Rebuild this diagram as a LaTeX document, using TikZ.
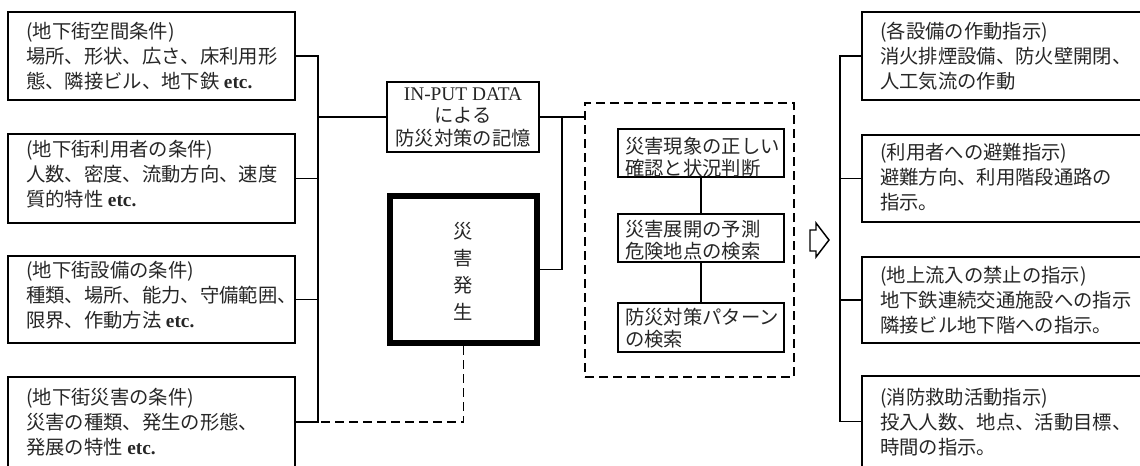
\documentclass[tikz,border=0pt]{standalone}
\usepackage{fontspec}
\setmainfont{Liberation Serif}
\newfontfamily\jp{Noto Sans CJK JP}
\usetikzlibrary{fit}
\newcommand\etcx{{\rmfamily\bfseries etc.}}
\definecolor{ink}{gray}{0.15}
\begin{document}
\begin{tikzpicture}[x=0.75pt,y=-0.75pt,
  box/.style={draw, line width=1.2pt, inner sep=0pt},
  inbox/.style={draw, line width=1.1pt, inner sep=0pt},
  thickbox/.style={draw, line width=4.5pt, inner sep=0pt},
  dbox/.style={draw, line width=1.3pt, dash pattern=on 6.5pt off 4pt, inner sep=0pt},
  conn/.style={draw, line width=0.8pt},
  dconn/.style={draw, line width=1.3pt, dash pattern=on 6.5pt off 4pt},
  txt/.style={inner sep=0pt, align=left, text=ink, font={\jp\fontsize{14.5pt}{18.75pt}\selectfont}},
  itxt/.style={inner sep=0pt, align=left, text=ink, font={\jp\fontsize{14.5pt}{16.5pt}\selectfont}},
  ctxt/.style={inner sep=0pt, align=center, text=ink, font={\jp\fontsize{14.5pt}{16.9pt}\selectfont}},
  vtxt/.style={inner sep=0pt, align=center, text=ink, font={\jp\fontsize{14.5pt}{20.25pt}\selectfont}}]
\useasboundingbox (0,0) rectangle (1140,465);

% left boxes
\node[box, fit={(8,12)(295,100)}] (L1) {};
\node[txt, anchor=west] (L1t) at (26,56) {(地下街空間条件)\\場所、形状、広さ、床利用形\\態、隣接ビル、地下鉄 \etcx};
\node[box, fit={(8,134)(295,223)}] (L2) {};
\node[txt, anchor=west] (L2t) at (26,174) {(地下街利用者の条件)\\人数、密度、流動方向、速度\\質的特性 \etcx};
\node[box, fit={(8,256)(295,343)}] (L3) {};
\node[txt, anchor=west] (L3t) at (26,295) {(地下街設備の条件)\\種類、場所、能力、守備範囲、\\限界、作動方法 \etcx};
\node[box, fit={(8,377)(295,467)}] (L4) {};
\node[txt, anchor=west] (L4t) at (26,422) {(地下街災害の条件)\\災害の種類、発生の形態、\\発展の特性 \etcx};

% middle
\node[box, fit={(387,82)(539,152)}] (IN) {};
\node[ctxt] (INt) at (463,117) {{\rmfamily IN-PUT DATA}\\による\\防災対策の記憶};
\node[thickbox, fit={(390,196)(537,343)}] (D) {};
\node[vtxt] (Dt) at (463,271) {災\\害\\発\\生};

% dashed group
\node[dbox, fit={(585,103)(794,377)}] (DB) {};
\node[inbox, fit={(618,129)(784,177)}] (A) {};
\node[itxt, anchor=west] (At) at (625,157) {災害現象の正しい\\確認と状況判断};
\node[inbox, fit={(618,214)(784,262)}] (B) {};
\node[itxt, anchor=west] (Bt) at (625,240) {災害展開の予測\\危険地点の検索};
\node[inbox, fit={(618,303)(784,352)}] (C) {};
\node[itxt, anchor=west] (Ct) at (625,328) {防災対策パターン\\の検索};

% right boxes
\node[box, fit={(862,12)(1160,100)}] (R1) {};
\node[txt, anchor=west] (R1t) at (880,56) {(各設備の作動指示)\\消火排煙設備、防火壁開閉、\\人工気流の作動};
\node[box, fit={(862,135)(1160,222)}] (R2) {};
\node[txt, anchor=west] (R2t) at (880,177) {(利用者への避難指示)\\避難方向、利用階段通路の\\指示。};
\node[box, fit={(862,257)(1160,343)}] (R3) {};
\node[txt, anchor=west] (R3t) at (880,300) {(地上流入の禁止の指示)\\地下鉄連続交通施設への指示\\隣接ビル地下階への指示。};
\node[box, fit={(862,376)(1160,467)}] (R4) {};
\node[txt, anchor=west] (R4t) at (880,422) {(消防救助活動指示)\\投入人数、地点、活動目標、\\時間の指示。};

% connectors
\coordinate (lbus) at (318,0);
\coordinate (mid) at (562,0);
\coordinate (rbus) at (840,0);
\draw[conn] (L1.east) -- (L1.east -| lbus) -- (lbus |- L4.east) -- (L4.east);
\draw[conn] (L2.east) -- (L2.east -| lbus);
\draw[conn] (L3.east) -- (L3.east -| lbus);
\draw[conn] (lbus |- IN.west) -- (IN.west);
\draw[conn] (IN.east) -- (IN.east -| DB.west);
\draw[conn] (IN.east -| mid) |- (D.east);
\draw[dconn] (D.south) |- (L4.east -| lbus);
\draw[conn] (A.south) -- (B.north);
\draw[conn] (B.south) -- (C.north);
\draw[conn] (R1.west) -- (R1.west -| rbus) -- (rbus |- R4.west) -- (R4.west);
\draw[conn] (R2.west) -- (R2.west -| rbus);
\draw[conn] (R3.west) -- (R3.west -| rbus);

% hollow arrow
\draw[line width=1.1pt, line join=miter] (810,230) -- (816,230) -- (816,223) -- (829,240) -- (816,257) -- (816,251) -- (810,251) -- cycle;
\end{tikzpicture}
\end{document}
